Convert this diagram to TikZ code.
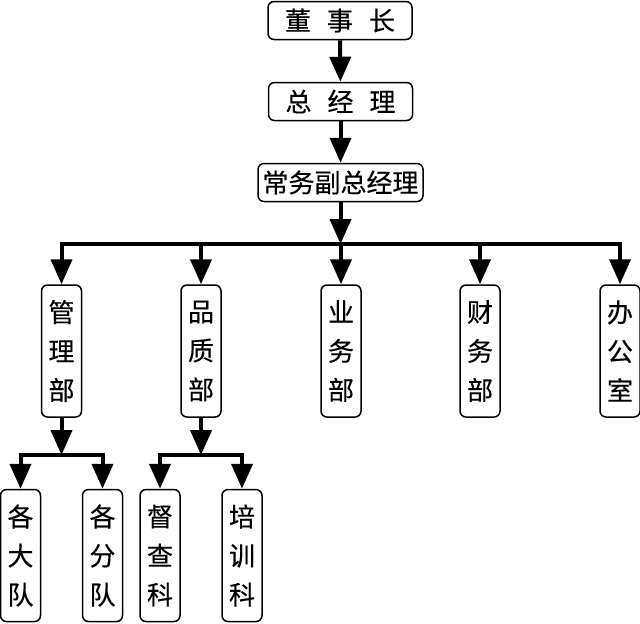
\documentclass[tikz,border=0pt]{standalone}
\usepackage{fontspec}
\setmainfont{Noto Sans CJK SC}[FakeBold=0.4]
\usepackage{tikz}
\usetikzlibrary{arrows.meta}
\tikzstyle{poste} = [rectangle, rounded corners=3pt, draw=black, line width=0.75pt, inner sep=0pt, minimum height=19pt, font=\fontsize{13}{19.5}\selectfont]
\tikzstyle{service} = [poste, minimum width=20pt, minimum height=66pt, align=center]
\tikzstyle{fleche} = [line width=2pt, -{Triangle[width=10.5pt,length=12.5pt]}]

\begin{document}
\begin{tikzpicture}[x=0.5pt, y=-0.5pt]
        \useasboundingbox (0,0) rectangle (640,623);

        \node (dsz) [poste, minimum width=72pt] at (340,20.5) {董\hspace{8pt}事\hspace{8pt}长};
        \node (zjl) [poste, minimum width=72pt] at (340.5,101.5) {总\hspace{8pt}经\hspace{8pt}理};
        \node (cwz) [poste, minimum width=82.5pt] at (340.5,182.5) {常务副总经理};

        \node (glb) [service] at (61.5,351) {管\\理\\部};
        \node (pzb) [service] at (201,351) {品\\质\\部};
        \node (ywb) [service] at (341,351) {业\\务\\部};
        \node (cwb) [service] at (480,351) {财\\务\\部};
        \node (bgs) [service] at (620,351) {办\\公\\室};

        \node (gdd) [service] at (20.5,555.5) {各\\大\\队};
        \node (gfd) [service] at (102.5,555.5) {各\\分\\队};
        \node (dck) [service] at (160,555.5) {督\\查\\科};
        \node (pxk) [service] at (242,555.5) {培\\训\\科};

        \coordinate (bar) at (340.5,244);
        \coordinate (bgl) at (61.5,455);
        \coordinate (bpz) at (201,455);

        \draw[fleche] (dsz) -- (zjl);
        \draw[fleche] (zjl) -- (cwz);
        \draw[fleche] (cwz) -- (bar);
        \foreach \s in {glb,pzb,ywb,cwb,bgs}
            \draw[fleche] (bar) -| (\s);

        \draw[fleche] (glb) -- (bgl);
        \draw[fleche] (bgl) -| (gdd);
        \draw[fleche] (bgl) -| (gfd);
        \draw[fleche] (pzb) -- (bpz);
        \draw[fleche] (bpz) -| (dck);
        \draw[fleche] (bpz) -| (pxk);
    \end{tikzpicture}
\end{document}
